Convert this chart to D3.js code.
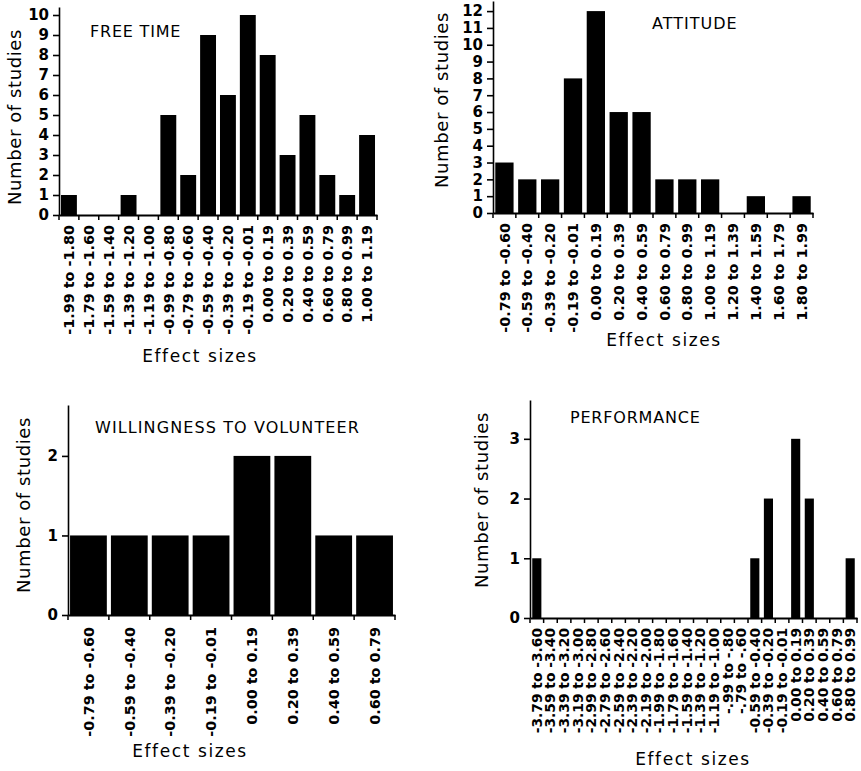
<!DOCTYPE html>
<html>
<head>
<meta charset="utf-8">
<script src="https://cdn.jsdelivr.net/npm/d3@7"></script>
<style>
  body { margin: 0; background: #fff; }
  svg text { font-family: "DejaVu Sans", sans-serif; fill: #000; }
</style>
</head>
<body>
<svg id="chart" width="861" height="771"></svg>
<script>
// ---- data ----
const freeTimeCats = ['-1.99 to -1.80','-1.79 to -1.60','-1.59 to -1.40','-1.39 to -1.20','-1.19 to -1.00',
  '-0.99 to -0.80','-0.79 to -0.60','-0.59 to -0.40','-0.39 to -0.20','-0.19 to -0.01',
  '0.00 to 0.19','0.20 to 0.39','0.40 to 0.59','0.60 to 0.79','0.80 to 0.99','1.00 to 1.19']
const freeTimeVals = [1,0,0,1,0,5,2,9,6,10,8,3,5,2,1,4]
const freeTimeTicks = [0,1,2,3,4,5,6,7,8,9,10]

const attitudeCats = ['-0.79 to -0.60','-0.59 to -0.40','-0.39 to -0.20','-0.19 to -0.01','0.00 to 0.19',
  '0.20 to 0.39','0.40 to 0.59','0.60 to 0.79','0.80 to 0.99','1.00 to 1.19','1.20 to 1.39',
  '1.40 to 1.59','1.60 to 1.79','1.80 to 1.99']
const attitudeVals = [3,2,2,8,12,6,6,2,2,2,0,1,0,1]
const attitudeTicks = [0,1,2,3,4,5,6,7,8,9,10,11,12]

const volunteerCats = ['-0.79 to -0.60','-0.59 to -0.40','-0.39 to -0.20','-0.19 to -0.01',
  '0.00 to 0.19','0.20 to 0.39','0.40 to 0.59','0.60 to 0.79']
const volunteerVals = [1,1,1,1,2,2,1,1]
const volunteerTicks = [0,1,2]

const performanceCats = ['-3.79 to -3.60','-3.59 to -3.40','-3.39 to -3.20','-3.19 to -3.00','-2.99 to -2.80',
  '-2.79 to -2.60','-2.59 to -2.40','-2.39 to -2.20','-2.19 to -2.00','-1.99 to -1.80','-1.79 to -1.60',
  '-1.59 to -1.40','-1.39 to -1.20','-1.19 to -1.00','-.99 to -.80','-.79 to -.60','-0.59 to -0.40',
  '-0.39 to -0.20','-0.19 to -0.01','0.00 to 0.19','0.20 to 0.39','0.40 to 0.59','0.60 to 0.79','0.80 to 0.99']
const performanceVals = [1,0,0,0,0,0,0,0,0,0,0,0,0,0,0,0,1,2,0,3,2,0,0,1]
const performanceTicks = [0,1,2,3]

const svg = d3.select('#chart')

function drawPanel(p) {
  const g = svg.append('g').attr('transform', 'translate(' + p.left + ',' + p.top + ')')

  const x = d3.scaleBand()
    .domain(p.cats)
    .range([0, p.width])
    .paddingInner(p.pad)
    .paddingOuter(p.pad / 2)
  const y = d3.scaleLinear()
    .domain([0, p.yMax])
    .range([p.height, 0])

  // bars
  g.selectAll('.bar')
    .data(p.vals)
    .enter()
    .append('rect')
    .attr('x', (d, i) => x(p.cats[i]))
    .attr('y', d => y(d))
    .attr('width', x.bandwidth())
    .attr('height', d => p.height - y(d))
    .attr('fill', '#000')

  // y axis
  const ya = g.append('g')
    .call(d3.axisLeft(y).tickValues(p.ticks).tickSize(6).tickSizeOuter(0).tickFormat(d3.format('d')))
  ya.select('.domain').attr('stroke-width', 1.6)
  ya.selectAll('.tick line').attr('stroke-width', 1.6)
  ya.selectAll('text')
    .attr('x', -10)
    .style('font-size', '15px')
    .style('font-weight', 'bold')

  // x axis: baseline + boundary ticks
  const xa = g.append('g').attr('transform', 'translate(0,' + p.height + ')')
    .call(d3.axisBottom(x).tickSize(0).tickSizeOuter(0))
  xa.select('.domain').attr('stroke-width', 2)
  xa.selectAll('text')
    .attr('transform', 'rotate(-90)')
    .attr('x', -p.labelGap)
    .attr('y', 0)
    .attr('dy', '0.36em')
    .style('text-anchor', 'end')
    .style('font-size', p.xFont + 'px')
    .style('font-weight', 'bold')

  g.selectAll('.bnd')
    .data(d3.range(p.cats.length + 1))
    .enter()
    .append('line')
    .attr('x1', i => i * x.step())
    .attr('x2', i => i * x.step())
    .attr('y1', p.height)
    .attr('y2', p.height + 5)
    .attr('stroke', '#000')
    .attr('stroke-width', 1.5)

  // titles
  g.append('text')
    .attr('x', p.titleX)
    .attr('y', p.titleY)
    .style('font-size', '16px')
    .style('letter-spacing', p.titleSpacing + 'px')
    .text(p.title)

  g.append('text')
    .attr('transform', 'translate(' + p.yLabX + ',' + p.yLabY + ') rotate(-90)')
    .attr('text-anchor', 'middle')
    .style('font-size', '18px')
    .style('letter-spacing', '0.6px')
    .text('Number of studies')

  g.append('text')
    .attr('x', p.xLabX)
    .attr('y', p.xLabY)
    .attr('text-anchor', 'middle')
    .style('font-size', '17px')
    .style('letter-spacing', '1.6px')
    .text('Effect sizes')
}

drawPanel({cats: freeTimeCats, vals: freeTimeVals, ticks: freeTimeTicks, yMax: 10.4,
  left: 59, top: 7, width: 318, height: 208, pad: 0.2, xFont: 14.4, labelGap: 10,
  title: 'FREE TIME', titleX: 31, titleY: 30, titleSpacing: 0.8,
  yLabX: -38, yLabY: 110, xLabX: 141, xLabY: 355})

drawPanel({cats: attitudeCats, vals: attitudeVals, ticks: attitudeTicks, yMax: 12.6,
  left: 493, top: 1, width: 320, height: 212, pad: 0.2, xFont: 14.4, labelGap: 10,
  title: 'ATTITUDE', titleX: 159, titleY: 28, titleSpacing: 1,
  yLabX: -45, yLabY: 99, xLabX: 171, xLabY: 345})

drawPanel({cats: volunteerCats, vals: volunteerVals, ticks: volunteerTicks, yMax: 2.64,
  left: 68, top: 405, width: 327, height: 210, pad: 0.1, xFont: 14.4, labelGap: 12,
  title: 'WILLINGNESS TO VOLUNTEER', titleX: 27, titleY: 28, titleSpacing: 1.1,
  yLabX: -38, yLabY: 100, xLabX: 122, xLabY: 352})

drawPanel({cats: performanceCats, vals: performanceVals, ticks: performanceTicks, yMax: 3.65,
  left: 530, top: 400, width: 327, height: 218, pad: 0.33, xFont: 13.8, labelGap: 10,
  title: 'PERFORMANCE', titleX: 40, titleY: 23, titleSpacing: 0.8,
  yLabX: -42, yLabY: 100, xLabX: 163, xLabY: 365})
</script>
</body>
</html>
